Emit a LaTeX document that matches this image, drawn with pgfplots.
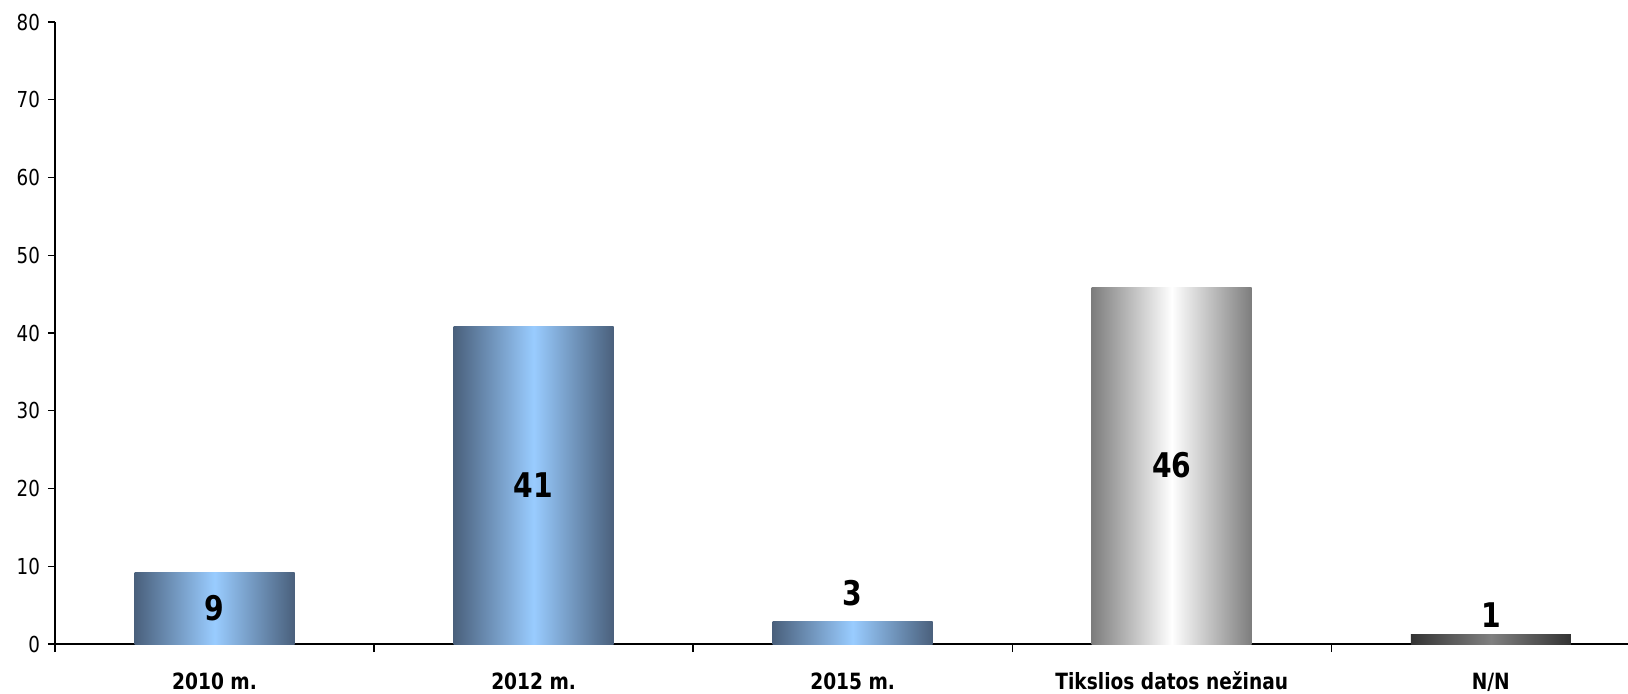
\documentclass[border=0pt]{standalone}
\usepackage{fontspec}
\setmainfont{DejaVu Sans}[FakeStretch=0.83]
\usepackage{pgfplots}
\pgfplotsset{compat=1.18}
\definecolor{bedge}{RGB}{74,96,124}
\definecolor{bmid}{RGB}{153,204,255}
\definecolor{gedge}{RGB}{125,125,125}
\definecolor{dedge}{RGB}{51,51,51}
\definecolor{dmid}{RGB}{128,128,128}
\begin{document}
\begin{tikzpicture}
\begin{axis}[
 scale only axis, width=786.5pt, height=311pt,
 xmin=-0.5, xmax=4.43, ymin=0, ymax=80,
 axis x line*=bottom, axis y line*=left,
 ytick={0,10,...,80},
 xtick={0,1,2,3,4},
 xticklabels={2010 m., 2012 m., 2015 m., Tikslios datos nežinau, N/N},
 major x tick style={draw=none},
 minor xtick={-0.5,0.5,1.5,2.5,3.5},
 tick align=outside,
 major tick length=3.5pt, minor tick length=4pt,
 tick style={black, line width=0.7pt},
 axis line style={black, line width=1.1pt},
 /pgf/number format/assume math mode=true,
 yticklabel style={font=\fontsize{11}{12}\selectfont, anchor=east, xshift=-0.5pt},
 xticklabel style={font=\bfseries\fontsize{11.2}{12}\selectfont, anchor=base, yshift=-19pt},
 nodes near coords style={/pgf/number format/fixed, /pgf/number format/precision=0},
 clip=false,
]
\addplot[ybar, bar width=80pt, bar shift=0pt, draw=none, left color=bedge, right color=bedge, middle color=bmid,
  nodes near coords, every node near coord/.append style={font=\bfseries\fontsize{17}{17}\selectfont, black, anchor=center, yshift=-17.9pt}]
  coordinates {(0,9.2)};
\addplot[ybar, bar width=80pt, bar shift=0pt, draw=none, left color=bedge, right color=bedge, middle color=bmid,
  nodes near coords, every node near coord/.append style={font=\bfseries\fontsize{17}{17}\selectfont, black, anchor=center, yshift=-79.3pt}]
  coordinates {(1,40.8)};
\addplot[ybar, bar width=80pt, bar shift=0pt, draw=none, left color=bedge, right color=bedge, middle color=bmid,
  nodes near coords, every node near coord/.append style={font=\bfseries\fontsize{17}{17}\selectfont, black, anchor=center, yshift=14pt}]
  coordinates {(2,2.9)};
\addplot[ybar, bar width=80pt, bar shift=0pt, draw=none, left color=gedge, right color=gedge, middle color=white,
  nodes near coords, every node near coord/.append style={font=\bfseries\fontsize{17}{17}\selectfont, black, anchor=center, yshift=-89.2pt}]
  coordinates {(3,45.9)};
\addplot[ybar, bar width=80pt, bar shift=0pt, draw=none, left color=dedge, right color=dedge, middle color=dmid,
  nodes near coords, every node near coord/.append style={font=\bfseries\fontsize{17}{17}\selectfont, black, anchor=center, yshift=9.7pt}]
  coordinates {(4,1.2)};
\end{axis}
\pgfresetboundingbox
\useasboundingbox (-27.5pt,-24.5pt) rectangle (786.5pt,322pt);
\end{tikzpicture}
\end{document}
